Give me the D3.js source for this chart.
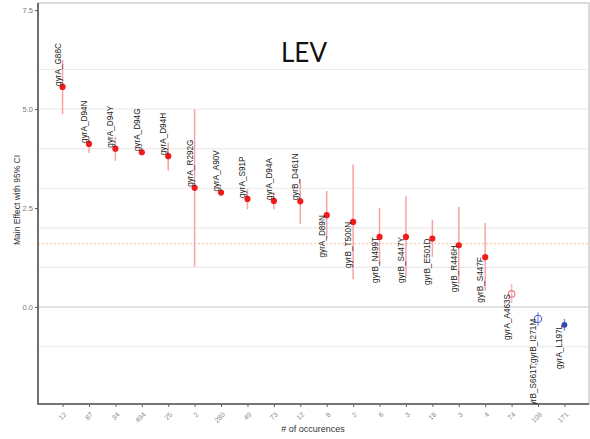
<!DOCTYPE html>
<html>
<head>
<meta charset="utf-8">
<script src="https://cdn.jsdelivr.net/npm/d3@7"></script>
<style>
  body { margin: 0; background: #fff; }
  svg { display: block; font-family: "Liberation Sans", Arial, sans-serif; }
</style>
</head>
<body>
<svg id="chart" width="590" height="439"></svg>
<script>
/********/
/* data */
/********/

const mutations = [
  "gyrA_G88C", "gyrA_D94N", "gyrA_D94Y", "gyrA_D94G", "gyrA_D94H",
  "gyrA_R292G", "gyrA_A90V", "gyrA_S91P", "gyrA_D94A", "gyrB_D461N",
  "gyrA_D89N", "gyrB_T500N", "gyrB_N499T", "gyrB_S447Y", "gyrB_E501D",
  "gyrB_R446H", "gyrB_S447F", "gyrA_A463S", "gyrB_S661T;gyrB_I271M", "gyrA_L197L",
];
const counts = [
  "12", "87", "34", "494", "25", "2", "280", "49", "73", "12",
  "8", "2", "6", "3", "18", "3", "4", "74", "109", "171",
];
const effects = [
  5.56, 4.12, 4.0, 3.91, 3.81, 3.01, 2.89, 2.73, 2.68, 2.67,
  2.32, 2.15, 1.77, 1.77, 1.73, 1.56, 1.26, 0.33, -0.3, -0.45,
];
const lower = [
  4.87, 3.89, 3.69, 3.85, 3.45, 1.02, 2.84, 2.47, 2.47, 2.1,
  1.73, 0.7, 1.08, 0.77, 1.27, 0.58, 0.41, 0.1, -0.48, -0.6,
];
const upper = [
  6.24, 4.29, 4.3, 3.97, 4.15, 5.0, 2.95, 2.98, 2.9, 3.23,
  2.93, 3.6, 2.5, 2.8, 2.2, 2.53, 2.12, 0.58, -0.13, -0.3,
];
// kind of marker: filled red, open red, open blue, filled blue
const kinds = [
  "up", "up", "up", "up", "up", "up", "up", "up", "up", "up",
  "up", "up", "up", "up", "up", "up", "up", "upNs", "downNs", "down",
];
const labelAbove = 10; // first ten labels sit above their point
const yTicks = [0, 2.5, 5, 7.5];
const gridLines = [-1, 1, 2, 3, 4, 5, 6];
const threshold = 1.6;

/*********/
/* chart */
/*********/

const colours = {
  up: { point: "#f21b1b", bar: "#f7a3a3", fill: true, r: 3.1 },
  upNs: { point: "#f07c7c", bar: "#f8b8b8", fill: false, r: 3.3 },
  downNs: { point: "#4a5cc0", bar: "#98a4dc", fill: false, r: 3.6 },
  down: { point: "#3348b0", bar: "#8895d4", fill: true, r: 2.9 },
};

const svg = d3.select("#chart");
const panel = { left: 38, right: 589, top: 3, bottom: 404 };

const x = d3
  .scalePoint()
  .domain(mutations)
  .range([panel.left, panel.right])
  .padding(0.93);
const y = d3.scaleLinear().domain([-2.45, 7.68]).range([panel.bottom, panel.top]);

// panel border
svg
  .append("rect")
  .attr("x", panel.left)
  .attr("y", panel.top)
  .attr("width", panel.right - panel.left)
  .attr("height", panel.bottom - panel.top)
  .attr("fill", "none")
  .attr("stroke", "#c4c4c4")
  .attr("stroke-width", 1.2);

// grid
svg
  .append("g")
  .selectAll("line")
  .data(gridLines)
  .enter()
  .append("line")
  .attr("x1", panel.left)
  .attr("x2", panel.right)
  .attr("y1", d => y(d))
  .attr("y2", d => y(d))
  .attr("stroke", "#ebebeb")
  .attr("stroke-width", 1.2);

svg
  .append("line")
  .attr("x1", panel.left)
  .attr("x2", panel.right)
  .attr("y1", y(0))
  .attr("y2", y(0))
  .attr("stroke", "#c8c8c8")
  .attr("stroke-width", 1.2);

svg
  .append("line")
  .attr("x1", panel.left)
  .attr("x2", panel.right)
  .attr("y1", y(threshold))
  .attr("y2", y(threshold))
  .attr("stroke", "#f2c49a")
  .attr("stroke-width", 1)
  .attr("stroke-dasharray", "2,2");

// axes
const yAxis = svg
  .append("g")
  .attr("transform", `translate(${panel.left},0)`)
  .call(
    d3
      .axisLeft(y)
      .tickValues(yTicks)
      .tickFormat(d3.format(".1f"))
      .tickSize(3)
      .tickPadding(2),
  );
yAxis.select(".domain").remove();
yAxis.selectAll("line").attr("stroke", "#555");
yAxis
  .selectAll("text")
  .attr("fill", "#7a7a7a")
  .attr("font-size", 7.5)
  .attr("font-family", "Liberation Sans, Arial, sans-serif");

const xAxis = svg
  .append("g")
  .attr("transform", `translate(0,${panel.bottom})`)
  .call(
    d3
      .axisBottom(x)
      .tickFormat((d, i) => counts[i])
      .tickSize(3),
  );
xAxis.select(".domain").remove();
xAxis.selectAll("line").attr("stroke", "#666");
xAxis
  .selectAll("text")
  .attr("fill", "#8a8a8a")
  .attr("font-size", 7)
  .attr("font-family", "Liberation Sans, Arial, sans-serif")
  .attr("text-anchor", "end")
  .attr("dy", null)
  .attr("y", 0)
  .attr("transform", "translate(4,11) rotate(-45)");

// axis lines (left and bottom darker)
svg
  .append("path")
  .attr("d", `M${panel.left},${panel.top} V${panel.bottom} H${panel.right}`)
  .attr("fill", "none")
  .attr("stroke", "#555")
  .attr("stroke-width", 1.6);

// error bars
const items = mutations.map((m, i) => ({
  name: m,
  effect: effects[i],
  lo: lower[i],
  hi: upper[i],
  kind: kinds[i],
  above: i < labelAbove,
}));

svg
  .append("g")
  .selectAll("line")
  .data(items)
  .enter()
  .append("line")
  .attr("x1", d => x(d.name))
  .attr("x2", d => x(d.name))
  .attr("y1", d => y(d.lo))
  .attr("y2", d => y(d.hi))
  .attr("stroke", d => colours[d.kind].bar)
  .attr("stroke-width", 1.5);

// points
svg
  .append("g")
  .selectAll("circle")
  .data(items)
  .enter()
  .append("circle")
  .attr("cx", d => x(d.name))
  .attr("cy", d => y(d.effect))
  .attr("r", d => colours[d.kind].r)
  .attr("fill", d => (colours[d.kind].fill ? colours[d.kind].point : "#fff"))
  .attr("fill-opacity", d => (colours[d.kind].fill ? 1 : 0))
  .attr("stroke", d => colours[d.kind].point)
  .attr("stroke-width", d => (colours[d.kind].fill ? 0 : 1.1));

// labels, clipped to the panel
svg
  .append("clipPath")
  .attr("id", "panel")
  .append("rect")
  .attr("x", panel.left)
  .attr("y", panel.top)
  .attr("width", panel.right - panel.left)
  .attr("height", panel.bottom - panel.top);

svg
  .append("g")
  .attr("clip-path", "url(#panel)")
  .selectAll("text")
  .data(items)
  .enter()
  .append("text")
  .attr(
    "transform",
    d => `translate(${x(d.name) - 2},${y(d.effect) + (d.above ? -1 : 0)}) rotate(-90)`,
  )
  .attr("text-anchor", d => (d.above ? "start" : "end"))
  .attr("font-size", 8.2)
  .attr("fill", "#222")
  .text(d => d.name);

// titles
svg
  .append("text")
  .attr("x", 304)
  .attr("y", 62)
  .attr("text-anchor", "middle")
  .attr("font-family", "Lato, 'Open Sans', sans-serif")
  .attr("font-size", 26)
  .attr("fill", "#111")
  .text("LEV");

svg
  .append("text")
  .attr("transform", "translate(20,200) rotate(-90)")
  .attr("text-anchor", "middle")
  .attr("font-size", 8.5)
  .attr("fill", "#333")
  .text("Main Effect with 95% CI");

svg
  .append("text")
  .attr("x", 313)
  .attr("y", 432)
  .attr("text-anchor", "middle")
  .attr("font-size", 9)
  .attr("fill", "#333")
  .text("# of occurences");
</script>
</body>
</html>
